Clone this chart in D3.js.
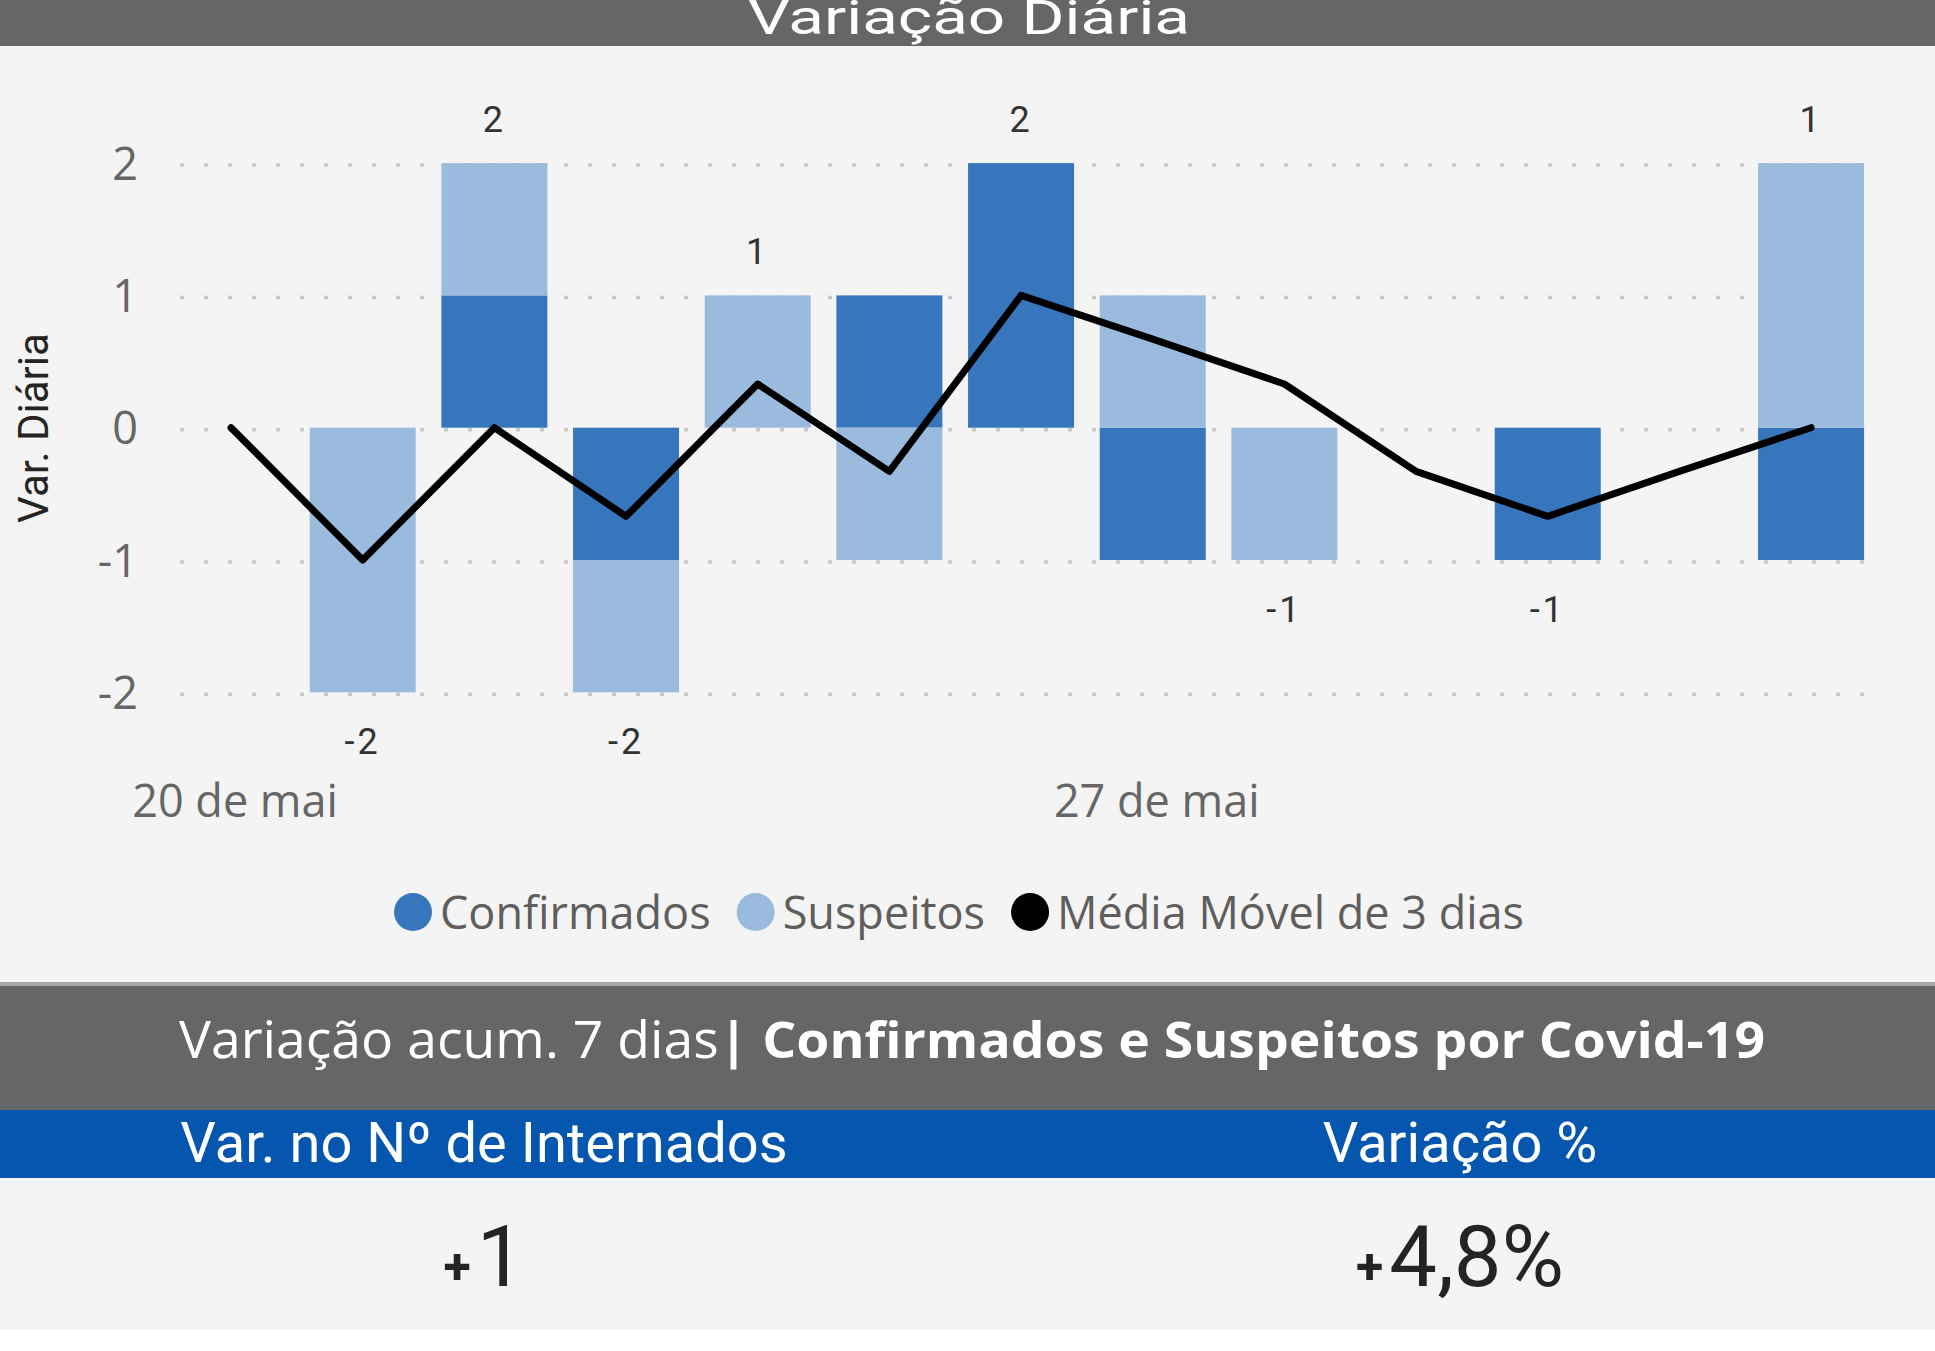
<!DOCTYPE html>
<html>
<head>
<meta charset="utf-8">
<script src="https://cdn.jsdelivr.net/npm/d3@7"></script>
<style>
  html, body { margin: 0; padding: 0; background: #ffffff; }
  svg { display: block; }
</style>
</head>
<body>
<svg id="chart" width="1935" height="1351"></svg>
<script>
// ---------------- DATA ----------------
const days = ["20/05","21/05","22/05","23/05","24/05","25/05","26/05","27/05","28/05","29/05","30/05","31/05","01/06"];
const confirmados = [0, 0, 1, -1, 0, 1, 2, -1, 0, 0, -1, 0, -1];
const suspeitos   = [0, -2, 1, -1, 1, -1, 0, 1, -1, 0, 0, 0, 2];
const mediaMovel  = [0, -1, 0, -0.67, 0.33, -0.33, 1, 0.67, 0.33, -0.33, -0.67, -0.33, 0];
const yTicks = [-2, -1, 0, 1, 2];
const xTickDays = ["20/05", "27/05"];
const xTickLabels = ["20 de mai", "27 de mai"];
const seriesNames = ["Confirmados", "Suspeitos", "Média Móvel de 3 dias"];
const seriesColors = ["#3776BD", "#9ABBDD", "#000000"];
const cardHeaders = ["Var. no Nº de Internados", "Variação %"];
const cardValues = ["1", "4,8%"];

// ---------------- LAYOUT ----------------
const W = 1935;
const svg = d3.select("#chart");
const SEGOE = "'Open Sans', 'Noto Sans', sans-serif";
const DIN = "Roboto, 'Noto Sans', sans-serif";

// backgrounds
svg.append("rect").attr("x",0).attr("y",0).attr("width",W).attr("height",1330).attr("fill","#F4F4F4");
svg.append("rect").attr("x",0).attr("y",0).attr("width",W).attr("height",46).attr("fill","#666666");
svg.append("rect").attr("x",0).attr("y",982).attr("width",W).attr("height",4).attr("fill","#A8A8A8");
svg.append("rect").attr("x",0).attr("y",986).attr("width",W).attr("height",124).attr("fill","#666666");
svg.append("rect").attr("x",0).attr("y",1110).attr("width",W).attr("height",68).attr("fill","#0556AE");

function fit(sel, w) {
  sel.attr("textLength", w).attr("lengthAdjust", "spacingAndGlyphs");
}
const signed = v => (v < 0 ? "-" : "") + Math.abs(v);

// title
svg.append("text").attr("x", 969).attr("y", 34).attr("text-anchor","middle")
  .attr("font-family", DIN).attr("font-size", 48).attr("fill", "#ffffff")
  .text("Variação Diária").call(fit, 442);

// ---------------- SCALES ----------------
const x = d3.scaleBand().domain(days).range([165.2, 1876.9]).paddingInner(0.195).paddingOuter(0.0975);
const y = d3.scaleLinear().domain([-2, 2]).range([692.3, 163.1]);
const cx = d => x(d) + x.bandwidth() / 2;

// gridlines
const gridG = svg.append("g");
gridG.selectAll("line").data(yTicks).join("line")
  .attr("x1", 180).attr("x2", 1866)
  .attr("y1", d => y(d) + 2).attr("y2", d => y(d) + 2)
  .attr("stroke", "#C8C8C8").attr("stroke-width", 3.5)
  .attr("stroke-dasharray", "4 20");

// y axis labels
const yAxis = d3.axisLeft(y).tickValues(yTicks).tickSize(0).tickPadding(0).tickFormat(signed);
const yG = svg.append("g").attr("transform", "translate(138,0)").call(yAxis);
yG.select(".domain").remove();
yG.selectAll("text").attr("font-family", SEGOE).attr("font-size", 45).attr("fill", "#666666")
  .attr("dy", "0.36em");

// y axis title
svg.append("text").attr("transform", "translate(48,428) rotate(-90)").attr("text-anchor","middle")
  .attr("font-family", DIN).attr("font-size", 42).attr("fill", "#252423")
  .text("Var. Diária");

// x axis labels
const xAxis = d3.axisBottom(x).tickValues(xTickDays).tickSize(0).tickPadding(0)
  .tickFormat(d => xTickLabels[xTickDays.indexOf(d)]);
const xG = svg.append("g").attr("transform", "translate(0,817)").call(xAxis);
xG.select(".domain").remove();
xG.selectAll("text").attr("font-family", SEGOE).attr("font-size", 45).attr("fill", "#666666")
  .attr("dy", 0).attr("dx", 4);

// ---------------- BARS ----------------
const table = days.map((d, i) => ({ day: d, Confirmados: confirmados[i], Suspeitos: suspeitos[i] }));
const stack = d3.stack().keys(["Confirmados", "Suspeitos"]).offset(d3.stackOffsetDiverging);
const stacked = stack(table);
const color = d3.scaleOrdinal().domain(seriesNames).range(seriesColors);

svg.append("g").selectAll("g").data(stacked).join("g")
  .attr("fill", s => color(s.key))
  .selectAll("rect").data(s => s.filter(p => p[1] !== p[0])).join("rect")
  .attr("x", p => x(p.data.day))
  .attr("width", x.bandwidth())
  .attr("y", p => y(Math.max(p[0], p[1])))
  .attr("height", p => Math.abs(y(p[0]) - y(p[1])));

// ---------------- LINE ----------------
const line = d3.line().x((d, i) => cx(days[i])).y(d => y(d));
svg.append("path").datum(mediaMovel)
  .attr("d", line).attr("fill", "none").attr("stroke", "#000000")
  .attr("stroke-width", 7).attr("stroke-linejoin", "round").attr("stroke-linecap", "round");

// ---------------- DATA LABELS ----------------
const labels = table.map(r => {
  const pos = Math.max(0, r.Confirmados) + Math.max(0, r.Suspeitos);
  const neg = Math.min(0, r.Confirmados) + Math.min(0, r.Suspeitos);
  return { day: r.day, total: r.Confirmados + r.Suspeitos, pos, neg };
}).filter(d => d.total !== 0);

svg.append("g").selectAll("text").data(labels).join("text")
  .attr("x", d => cx(d.day))
  .attr("y", d => d.total > 0 ? y(d.pos) - 31 : y(d.neg) + 62)
  .attr("text-anchor", "middle")
  .attr("font-family", DIN).attr("font-size", 36).attr("fill", "#333333")
  .attr("letter-spacing", 3)
  .text(d => signed(d.total));

// ---------------- LEGEND ----------------
const legendG = svg.append("g");
const legendItems = legendG.selectAll("g").data(seriesNames).join("g");
legendItems.append("circle").attr("r", 19).attr("cy", 912).attr("fill", d => color(d));
legendItems.append("text").attr("y", 929).attr("font-family", SEGOE).attr("font-size", 45)
  .attr("fill", "#605E5C").text(d => d);
let widths = [];
legendItems.select("text").each(function() { widths.push(this.getComputedTextLength()); });
const r = 19, gapText = 8, gapItem = 26;
const total = d3.sum(widths.map(w => 2 * r + gapText + w)) + gapItem * (widths.length - 1);
let cur = 959 - total / 2;
legendItems.each(function(d, i) {
  const g = d3.select(this);
  g.select("circle").attr("cx", cur + r);
  g.select("text").attr("x", cur + 2 * r + gapText);
  cur += 2 * r + gapText + widths[i] + gapItem;
});

// ---------------- BOTTOM CARDS ----------------
const hdr = svg.append("text").attr("x", 179).attr("y", 1058)
  .attr("font-family", SEGOE).attr("font-size", 51).attr("fill", "#ffffff");
hdr.append("tspan").text("Variação acum. 7 dias");
hdr.append("tspan").attr("font-weight", 700).text("| Confirmados e Suspeitos por Covid-19");
hdr.call(fit, 1586);

const colX = [484, 1460];
svg.append("g").selectAll("text").data(cardHeaders).join("text")
  .attr("x", (d, i) => colX[i]).attr("y", 1162).attr("text-anchor", "middle")
  .attr("font-family", DIN).attr("font-size", 56).attr("fill", "#ffffff")
  .text(d => d);

const vals = svg.append("g").selectAll("text").data(cardValues).join("text")
  .attr("x", (d, i) => colX[i]).attr("y", 1286).attr("text-anchor", "middle")
  .attr("font-family", DIN).attr("fill", "#252423");
vals.append("tspan").attr("font-size", 50).attr("font-weight", 700).attr("dy", -2).text("+");
vals.append("tspan").attr("font-size", 85).attr("dx", 6).attr("dy", 2).text(d => d);
</script>
</body>
</html>
